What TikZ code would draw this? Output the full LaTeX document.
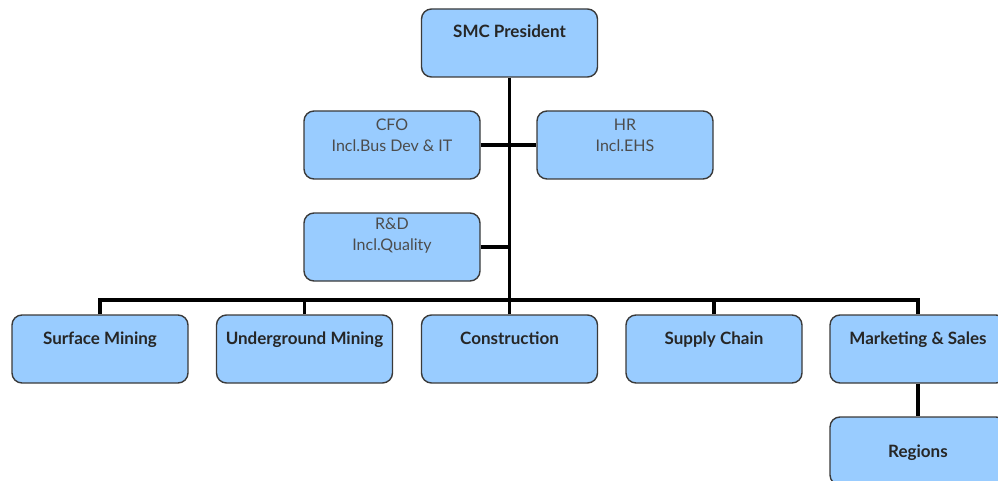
\documentclass[tikz,border=0pt]{standalone}
\usepackage{fontspec}
\setmainfont{Lato}
\begin{document}
\begin{tikzpicture}[x=1pt,y=-1pt,
  box/.style={draw=boxline, fill=boxfill, line width=1.4pt, rounded corners=10pt,
    minimum width=176pt, minimum height=68pt, inner sep=0pt},
  title/.style={font=\bfseries\fontsize{17}{20}\selectfont, text=black!85, inner sep=0pt, anchor=base},
  sub/.style={font=\fontsize{16}{21}\selectfont, text=black!70, align=center, inner sep=0pt},
  wire/.style={line width=3.2pt, black}]
\definecolor{boxfill}{HTML}{99CCFF}
\definecolor{boxline}{HTML}{3A3A3A}
\useasboundingbox (0,0) rectangle (998,481);
\clip (0,0) rectangle (998,481);

% boxes
\node[box] (smc)  at (509.5,43) {};
\node[box] (cfo)  at (392,145) {};
\node[box] (hr)   at (625,145) {};
\node[box] (rd)   at (392,247) {};
\node[box] (surf) at (100,349) {};
\node[box] (under) at (304.5,349) {};
\node[box] (cons) at (509.5,349) {};
\node[box] (supp) at (714,349) {};
\node[box] (mkt)  at (918,349) {};
\node[box] (reg)  at (918,451) {};

% labels
\node[title] (tsmc) at (509.5,38) {SMC President};
\node[sub] (tcfo) at (392,135) {CFO\\Incl.Bus Dev \& IT};
\node[sub] (thr) at (625,135) {HR\\Incl.EHS};
\node[sub] (trd) at (392,236) {R\&D\\Incl.Quality};
\node[title] (tsurf) at (100,344) {Surface Mining};
\node[title] (tunder) at (304.5,344) {Underground Mining};
\node[title] (tcons) at (509.5,344) {Construction};
\node[title] (tsupp) at (714,344) {Supply Chain};
\node[title] (tmkt) at (918,344) {Marketing \& Sales};
\node[title] (treg) at (918,457) {Regions};

% connectors
\coordinate (bus) at (509.5,300);
\draw[wire] (smc.south) -- (bus);
\draw[wire] (cfo.east) -- (hr.west);
\draw[wire] (rd.east) -- (rd.east -| smc.south);
\draw[wire] (surf.north) |- (bus);
\draw[wire] (mkt.north) |- (bus);
\draw[wire] (under.north) -- (under.north |- bus);
\draw[wire] (cons.north) -- (bus);
\draw[wire] (supp.north) -- (supp.north |- bus);
\draw[wire] (mkt.south) -- (reg.north);
\end{tikzpicture}
\end{document}
